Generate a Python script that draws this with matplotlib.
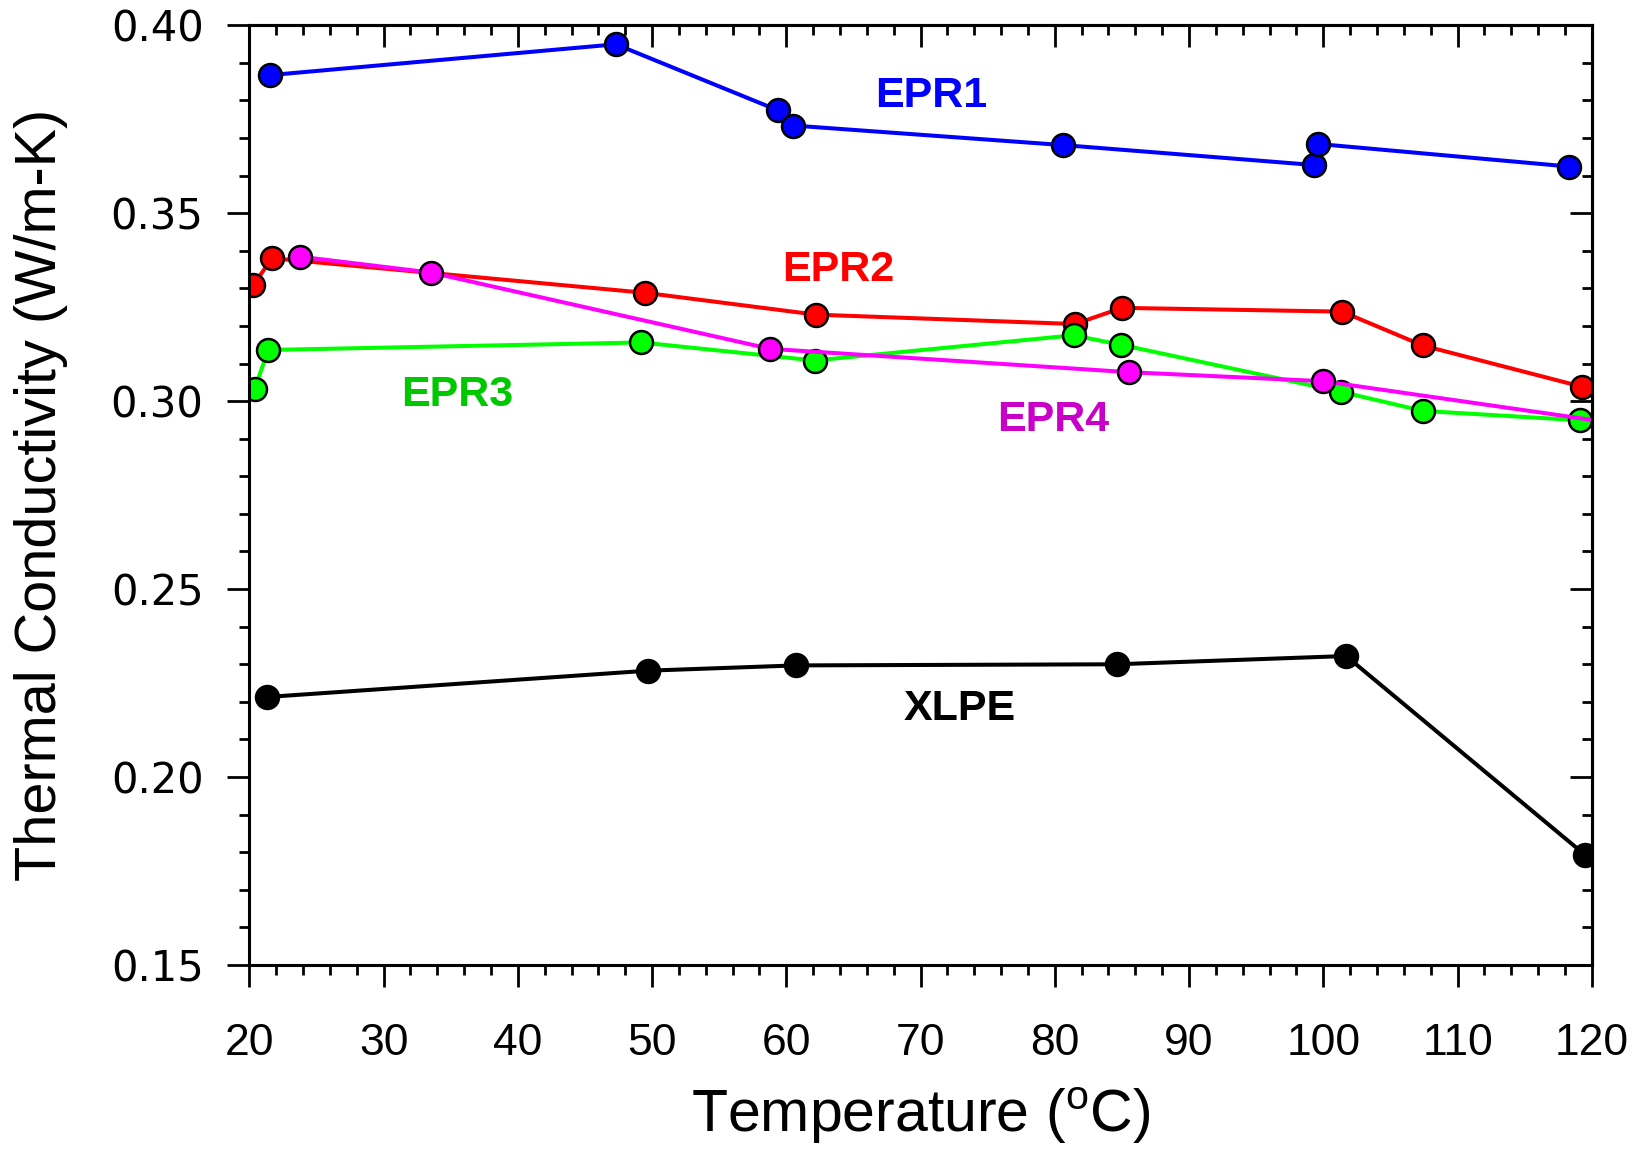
import matplotlib
matplotlib.use("Agg")
import matplotlib.pyplot as plt
from matplotlib.ticker import MultipleLocator, FormatStrFormatter

# temperature (C) and thermal conductivity (W/m-K)
epr1_t = [21.5, 47.3, 59.4, 60.5, 80.6, 99.3, 99.6, 118.3]
epr1_k = [0.3867, 0.3949, 0.3773, 0.3733, 0.3681, 0.3628, 0.3684, 0.3624]

epr2_t = [20.3, 21.7, 49.5, 62.2, 81.5, 85.0, 101.4, 107.4, 119.3]
epr2_k = [0.331, 0.338, 0.3288, 0.323, 0.3205, 0.3248, 0.3238, 0.3148, 0.3038]

epr3_t = [20.4, 21.4, 49.2, 62.1, 81.4, 84.9, 101.3, 107.4, 119.1]
epr3_k = [0.3033, 0.3136, 0.3156, 0.3108, 0.3175, 0.3150, 0.3025, 0.2974, 0.2949]

epr4_t = [23.8, 33.5, 58.8, 85.5, 99.95, 120.0]
epr4_k = [0.3384, 0.3342, 0.3139, 0.3077, 0.3053, 0.2950]

xlpe_t = [21.3, 49.7, 60.7, 84.6, 101.7, 119.5]
xlpe_k = [0.2213, 0.2283, 0.2297, 0.2300, 0.2322, 0.1793]

series_labels = ["EPR1", "EPR2", "EPR3", "EPR4", "XLPE"]
label_pos = [(70.8, 0.3811), (63.9, 0.3348), (35.5, 0.3016), (79.9, 0.2949), (72.9, 0.218)]
label_colors = ["#0000ff", "#ff0000", "#00c800", "#c800c8", "#000000"]

plt.rcParams["font.family"] = ["Liberation Sans", "DejaVu Sans"]
plt.rcParams["mathtext.fontset"] = "custom"
plt.rcParams["mathtext.rm"] = "Liberation Sans"

fig = plt.figure(figsize=(16.43, 11.53), dpi=100)
ax = fig.add_axes([0.1518, 0.1630, 0.8170, 0.8152])

mk = dict(marker="o", markersize=16.5, markeredgecolor="black", markeredgewidth=1.8, lw=2.9)
ax.plot(xlpe_t, xlpe_k, color="black", markerfacecolor="black", **mk)
ax.plot(epr1_t, epr1_k, color="#0000ff", markerfacecolor="#0000ff", **mk)
ax.plot(epr2_t, epr2_k, color="#ff0000", markerfacecolor="#ff0000", **mk)
ax.plot(epr3_t, epr3_k, color="#00ff00", markerfacecolor="#00ff00", **mk)
ax.plot(epr4_t, epr4_k, color="#ff00ff", markerfacecolor="#ff00ff",
        markevery=slice(0, -1), **mk)

for lab, (tx, ty), c in zip(series_labels, label_pos, label_colors):
    ax.text(tx, ty, lab, color=c, fontsize=31, fontweight="bold",
            ha="center", va="center")

ax.set_xlim(20, 120)
ax.set_ylim(0.15, 0.40)
ax.xaxis.set_major_locator(MultipleLocator(10))
ax.xaxis.set_minor_locator(MultipleLocator(2))
ax.yaxis.set_major_locator(MultipleLocator(0.05))
ax.yaxis.set_minor_locator(MultipleLocator(0.01))
ax.yaxis.set_major_formatter(FormatStrFormatter("%.2f"))

for s in ax.spines.values():
    s.set_linewidth(2.2)

ax.tick_params(which="both", direction="out", width=2.0, top=False, right=False)
ax.tick_params(which="major", length=16)
ax.tick_params(which="minor", length=7.5)
ax.tick_params(axis="x", which="major", labelsize=32, pad=26)
ax.tick_params(axis="y", which="major", pad=17)
for t in ax.get_yticklabels():
    t.set_fontfamily("DejaVu Sans")
    t.set_fontsize(30)

top = ax.secondary_xaxis("top")
top.xaxis.set_major_locator(MultipleLocator(10))
top.xaxis.set_minor_locator(MultipleLocator(2))
top.tick_params(which="both", direction="in", width=2.0, labeltop=False)
top.tick_params(which="major", length=16)
top.tick_params(which="minor", length=7.5)
top.spines["top"].set_linewidth(2.2)

right = ax.secondary_yaxis("right")
right.yaxis.set_major_locator(MultipleLocator(0.05))
right.yaxis.set_minor_locator(MultipleLocator(0.01))
right.tick_params(which="both", direction="in", width=2.0, labelright=False)
right.tick_params(which="major", length=16)
right.tick_params(which="minor", length=7.5)
right.spines["right"].set_linewidth(2.2)

ax.set_xlabel(r"Temperature ($^{\mathrm{o}}$C)", fontsize=42.5)
ax.set_ylabel("Thermal Conductivity (W/m-K)", fontsize=41.5)
ax.xaxis.set_label_coords(0.5, -0.128)
ax.yaxis.set_label_coords(-0.135, 0.5)

fig.savefig("out.png", dpi=100)
